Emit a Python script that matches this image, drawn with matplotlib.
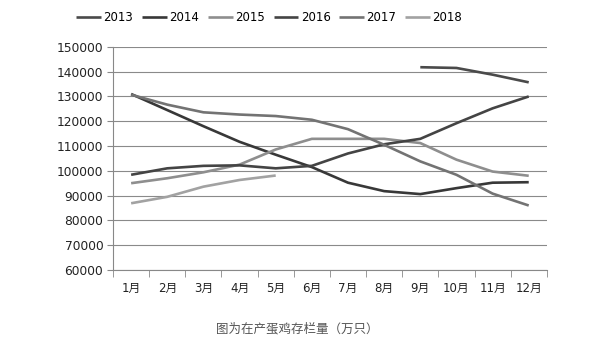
import matplotlib.pyplot as plt
from matplotlib.ticker import FixedLocator

plt.rcParams['font.family'] = ['DejaVu Sans', 'Noto Sans CJK SC']

months = ["1月", "2月", "3月", "4月", "5月", "6月", "7月", "8月", "9月", "10月", "11月", "12月"]
years = ["2013", "2014", "2015", "2016", "2017", "2018"]

# 在产蛋鸡存栏量 (万只), None = no data
y2013 = [None, None, None, None, None, None, None, None, 141800, 141500, 138800, 135700]
y2014 = [131000, 124500, 118000, 111700, 106500, 101500, 95200, 91800, 90600, 93000, 95200, 95400]
y2015 = [95000, 97000, 99400, 102500, 108600, 112900, 112900, 112900, 111200, 104500, 99700, 98000]
y2016 = [98400, 101000, 102000, 102200, 101000, 102000, 107000, 110700, 112900, 119200, 125200, 130000]
y2017 = [130700, 126700, 123600, 122700, 122100, 120600, 116800, 110500, 103800, 98400, 90800, 86000]
y2018 = [86900, 89500, 93600, 96300, 98100, None, None, None, None, None, None, None]

series = [y2013, y2014, y2015, y2016, y2017, y2018]
colors = ["#4a4a4a", "#383838", "#8e8e8e", "#444444", "#737373", "#a2a2a2"]

fig = plt.figure(figsize=(5.95, 3.58), dpi=100)
ax = fig.add_axes([0.19, 0.246, 0.729, 0.623])

x = list(range(1, 13))
for name, vals, c in zip(years, series, colors):
    pts = [(xi, v) for xi, v in zip(x, vals) if v is not None]
    ax.plot([p[0] for p in pts], [p[1] for p in pts], color=c, lw=1.9,
            label=name, solid_capstyle='butt')

ax.set_xlim(0.5, 12.5)
ax.set_ylim(60000, 150000)
ax.set_yticks(range(60000, 150001, 10000))
ax.set_xticks(x)
ax.set_xticklabels(months)
ax.xaxis.set_minor_locator(FixedLocator([i + 0.5 for i in range(0, 13)]))
ax.tick_params(axis='x', which='major', length=0, pad=9, labelsize=8.5, colors='#222222')
ax.tick_params(axis='x', which='minor', length=5, color='#888888', direction='out')
ax.tick_params(axis='y', length=4, color='#888888', labelsize=8.8, pad=3, labelcolor='#222222')

ax.grid(axis='y', color='#8a8a8a', lw=0.8)
ax.set_axisbelow(True)
for s in ['top', 'right']:
    ax.spines[s].set_visible(False)
for s in ['left', 'bottom']:
    ax.spines[s].set_color('#888888')
    ax.spines[s].set_linewidth(0.8)

ax.legend(loc='center', bbox_to_anchor=(0.36, 1.13), ncol=6, frameon=False,
          fontsize=8.5, handlelength=2.1, handletextpad=0.2, columnspacing=0.75,
          borderaxespad=0)

fig.text(0.5, 0.08, "图为在产蛋鸡存栏量（万只）", ha='center', va='center',
         fontsize=9, color='#555555', family=['Noto Sans CJK SC', 'DejaVu Sans'])

fig.savefig("out.png", dpi=100)
